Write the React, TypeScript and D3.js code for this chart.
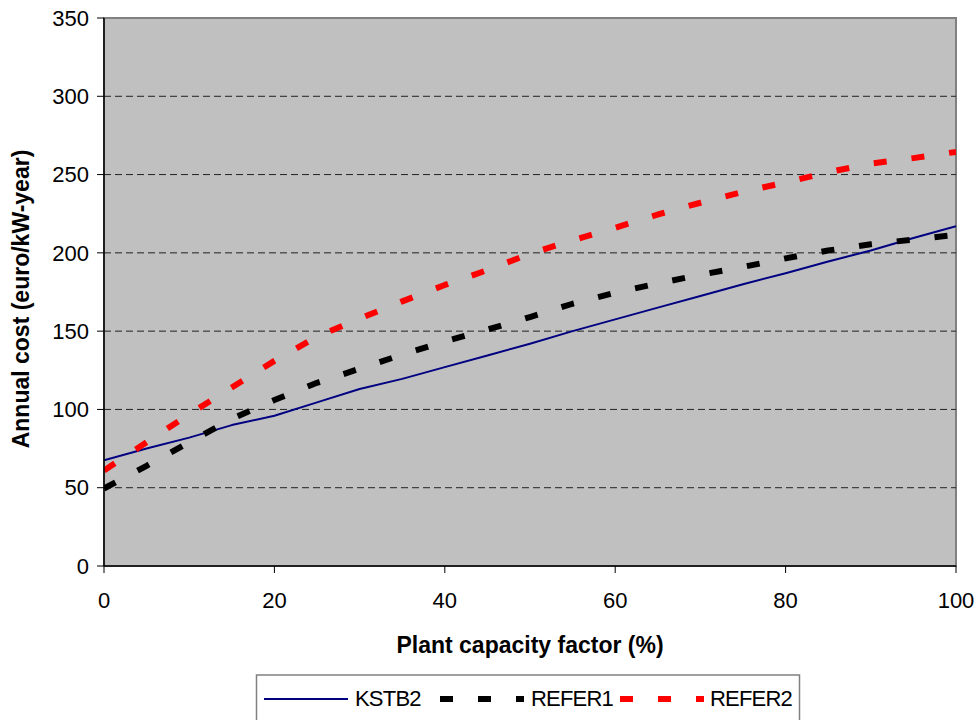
import React from "react";
import * as d3 from "d3";

const capacity = [0, 5, 10, 15, 20, 25, 30, 35, 40, 45, 50, 55, 60, 65, 70, 75, 80, 85, 90, 95, 100];
const kstb2 = [67.5, 75, 82, 90, 96, 104.5, 113, 119.5, 127, 134.5, 142, 150, 157.5, 165, 172.5, 180, 187, 194.5, 201.5, 209.5, 217];
const refer1 = [49.5, 64, 79, 94, 106, 117, 126, 135, 143.5, 151, 159, 167.5, 174.5, 180.5, 186, 191, 196.5, 201.5, 205.5, 208.5, 211.5];
const refer2 = [61, 79, 97, 114, 131, 146.5, 158, 169, 179.5, 189, 199.5, 208, 216, 224.5, 232, 239, 245, 251.5, 257, 260.5, 264.5];
const xTicks = [0, 20, 40, 60, 80, 100];
const yTicks = [0, 50, 100, 150, 200, 250, 300, 350];
const seriesNames = ["KSTB2", "REFER1", "REFER2"];

const FONT = "'Liberation Sans', Arial, sans-serif";

export default function App() {
  const left = 104, right = 956, top = 18, bottom = 566;
  const x = d3.scaleLinear().domain([0, 100]).range([left, right]);
  const y = d3.scaleLinear().domain([0, 350]).range([bottom, top]);
  const line = d3
    .line<[number, number]>()
    .x((d) => x(d[0]))
    .y((d) => y(d[1]));
  const pts = (vals: number[]) => capacity.map((c, i) => [c, vals[i]] as [number, number]);

  const series = [
    { name: seriesNames[0], vals: kstb2, color: "#000080", width: 2, dash: undefined as string | undefined },
    { name: seriesNames[1], vals: refer1, color: "#000000", width: 6, dash: "13 25" },
    { name: seriesNames[2], vals: refer2, color: "#FF0000", width: 6, dash: "13 25" },
  ];

  const legendX = [264, 440, 620];
  const legendTextX = [355, 531, 710];

  return (
    <svg
      width={980}
      height={720}
      style={{ position: "absolute", left: 0, top: 0, background: "#fff" }}
      fontFamily={FONT}
    >
      <rect x={left} y={top} width={right - left} height={bottom - top} fill="#C0C0C0" stroke="#808080" strokeWidth={2} />
      {yTicks
        .filter((t) => t > 0 && t < 350)
        .map((t) => (
          <line key={"g" + t} x1={left} x2={right} y1={y(t)} y2={y(t)} stroke="#222" strokeWidth={1} strokeDasharray="7 4" />
        ))}
      <defs>
        <clipPath id="plotclip">
          <rect x={left} y={top} width={right - left} height={bottom - top} />
        </clipPath>
      </defs>
      <g clipPath="url(#plotclip)">
        {series.map((s) => (
          <path
            key={s.name}
            d={line(pts(s.vals)) || ""}
            fill="none"
            stroke={s.color}
            strokeWidth={s.width}
            strokeDasharray={s.dash}
            strokeLinejoin="round"
          />
        ))}
      </g>
      {/* axes */}
      <line x1={left} x2={left} y1={top} y2={bottom} stroke="#000" strokeWidth={1.5} />
      <line x1={left} x2={right} y1={bottom} y2={bottom} stroke="#000" strokeWidth={1.5} />
      {yTicks.map((t) => (
        <g key={"y" + t}>
          <line x1={left - 7} x2={left} y1={y(t)} y2={y(t)} stroke="#000" strokeWidth={1} />
          <text x={left - 15} y={y(t)} dy="0.35em" textAnchor="end" fontSize={22} fill="#000">
            {t}
          </text>
        </g>
      ))}
      {xTicks.map((t) => (
        <g key={"x" + t}>
          <line x1={x(t)} x2={x(t)} y1={bottom} y2={bottom + 7} stroke="#000" strokeWidth={1} />
          <text x={x(t)} y={608} textAnchor="middle" fontSize={22} fill="#000">
            {t}
          </text>
        </g>
      ))}
      <text x={530} y={653} textAnchor="middle" fontSize={23} fontWeight="bold" fill="#000">
        Plant capacity factor (%)
      </text>
      <text
        transform={`translate(29,299) rotate(-90)`}
        textAnchor="middle"
        fontSize={23}
        fontWeight="bold"
        fill="#000"
      >
        Annual cost (euro/kW-year)
      </text>
      {/* legend */}
      <rect x={256.5} y={675} width={543} height={60} fill="#fff" stroke="#808080" strokeWidth={1.5} />
      {series.map((s, i) => (
        <g key={"l" + s.name}>
          <line
            x1={legendX[i]}
            x2={legendX[i] + 84}
            y1={699}
            y2={699}
            stroke={s.color}
            strokeWidth={s.dash ? 6 : 2}
            strokeDasharray={s.dash}
          />
          <text x={legendTextX[i]} y={706} fontSize={22} fill="#000" letterSpacing={-0.8}>
            {s.name}
          </text>
        </g>
      ))}
    </svg>
  );
}
